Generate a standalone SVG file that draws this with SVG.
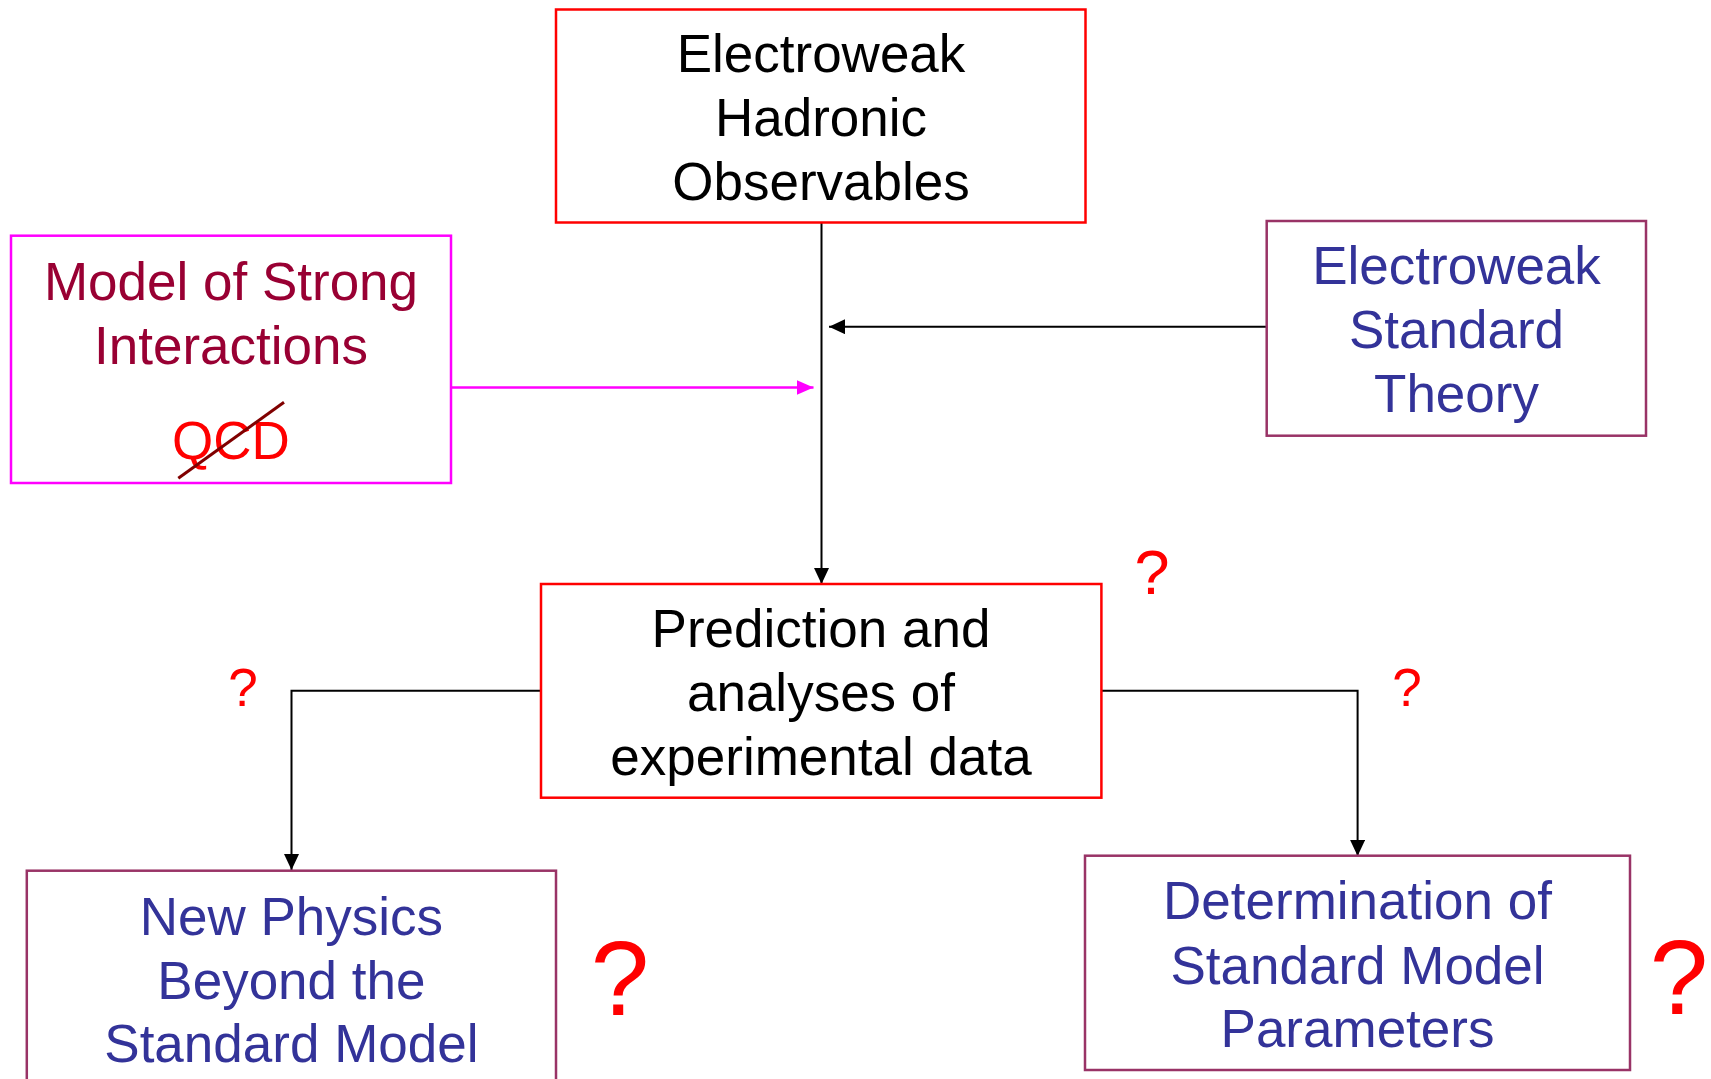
<svg xmlns="http://www.w3.org/2000/svg" width="1711" height="1079" viewBox="0 0 1711 1079">
<style>
  .t { font-family: "Liberation Sans", Arial, sans-serif; font-size: 53px; text-anchor: middle; }
  .blk { fill: #000000; }
  .blue { fill: #333399; }
  .wine { fill: #990033; }
  .red { fill: #FF0000; }
  .q { font-family: "Liberation Sans", Arial, sans-serif; text-anchor: middle; fill: #FF0000; }
  .boxRed { fill: #FFFFFF; stroke: #FF0000; stroke-width: 2.5; }
  .boxMag { fill: #FFFFFF; stroke: #FF00FF; stroke-width: 2.5; }
  .boxPur { fill: #FFFFFF; stroke: #993366; stroke-width: 2.5; }
  .conn { fill: none; stroke: #000000; stroke-width: 2; }
  .connMag { fill: none; stroke: #FF00FF; stroke-width: 2.5; }
</style>
<defs>
  <marker id="arrBlk" markerUnits="userSpaceOnUse" markerWidth="16" markerHeight="15" refX="16" refY="7.5" orient="auto">
    <path d="M0,0 L16,7.5 L0,15 z" fill="#000000"/>
  </marker>
  <marker id="arrMag" markerUnits="userSpaceOnUse" markerWidth="17" markerHeight="15" refX="17" refY="7.5" orient="auto">
    <path d="M0,0 L17,7.5 L0,15 z" fill="#FF00FF"/>
  </marker>
</defs>
<rect width="1711" height="1079" fill="#FFFFFF"/>

<g id="connectors">
  <line class="conn" x1="821.5" y1="223" x2="821.5" y2="584" marker-end="url(#arrBlk)"/>
  <line class="conn" x1="1267" y1="326.7" x2="829" y2="326.7" marker-end="url(#arrBlk)"/>
  <line class="connMag" x1="451" y1="387.5" x2="813.5" y2="387.5" marker-end="url(#arrMag)"/>
  <polyline class="conn" points="541,690.7 291.5,690.7 291.5,870" marker-end="url(#arrBlk)"/>
  <polyline class="conn" points="1101,690.7 1357.6,690.7 1357.6,856" marker-end="url(#arrBlk)"/>
</g>

<g id="node-observables">
  <rect class="boxRed" x="556" y="9.5" width="529.5" height="213"/>
  <text class="t blk" x="821" y="72">Electroweak</text>
  <text class="t blk" x="821" y="136">Hadronic</text>
  <text class="t blk" x="821" y="200">Observables</text>
</g>

<g id="node-strong">
  <rect class="boxMag" x="11" y="235.7" width="440" height="247.3"/>
  <text class="t wine" x="231" y="300">Model of Strong</text>
  <text class="t wine" x="231" y="364">Interactions</text>
  <text class="t red" x="231" y="459">QCD</text>
  <line x1="178.3" y1="478.3" x2="284" y2="402.3" stroke="#800000" stroke-width="3"/>
</g>

<g id="node-ew-theory">
  <rect class="boxPur" x="1266.7" y="221" width="379.3" height="214.7"/>
  <text class="t blue" x="1456.5" y="284">Electroweak</text>
  <text class="t blue" x="1456.5" y="348">Standard</text>
  <text class="t blue" x="1456.5" y="412">Theory</text>
</g>

<g id="node-prediction">
  <rect class="boxRed" x="541" y="584" width="560.4" height="213.7"/>
  <text class="t blk" x="821" y="647">Prediction and</text>
  <text class="t blk" x="821" y="711">analyses of</text>
  <text class="t blk" x="821" y="775">experimental data</text>
</g>

<g id="node-new-physics">
  <rect class="boxPur" x="26.8" y="870.7" width="529.2" height="230"/>
  <text class="t blue" x="291.4" y="935">New Physics</text>
  <text class="t blue" x="291.4" y="999">Beyond the</text>
  <text class="t blue" x="291.4" y="1062">Standard Model</text>
</g>

<g id="node-determination">
  <rect class="boxPur" x="1085" y="855.7" width="545" height="214.3"/>
  <text class="t blue" x="1357.5" y="919">Determination of</text>
  <text class="t blue" x="1357.5" y="984">Standard Model</text>
  <text class="t blue" x="1357.5" y="1047">Parameters</text>
</g>

<g id="question-marks">
  <text class="q" x="243" y="706" font-size="53">?</text>
  <text class="q" x="1152" y="594" font-size="63">?</text>
  <text class="q" x="1407" y="706" font-size="53">?</text>
  <text class="q" x="620" y="1015" font-size="105">?</text>
  <text class="q" x="1679" y="1014" font-size="105">?</text>
</g>
</svg>
